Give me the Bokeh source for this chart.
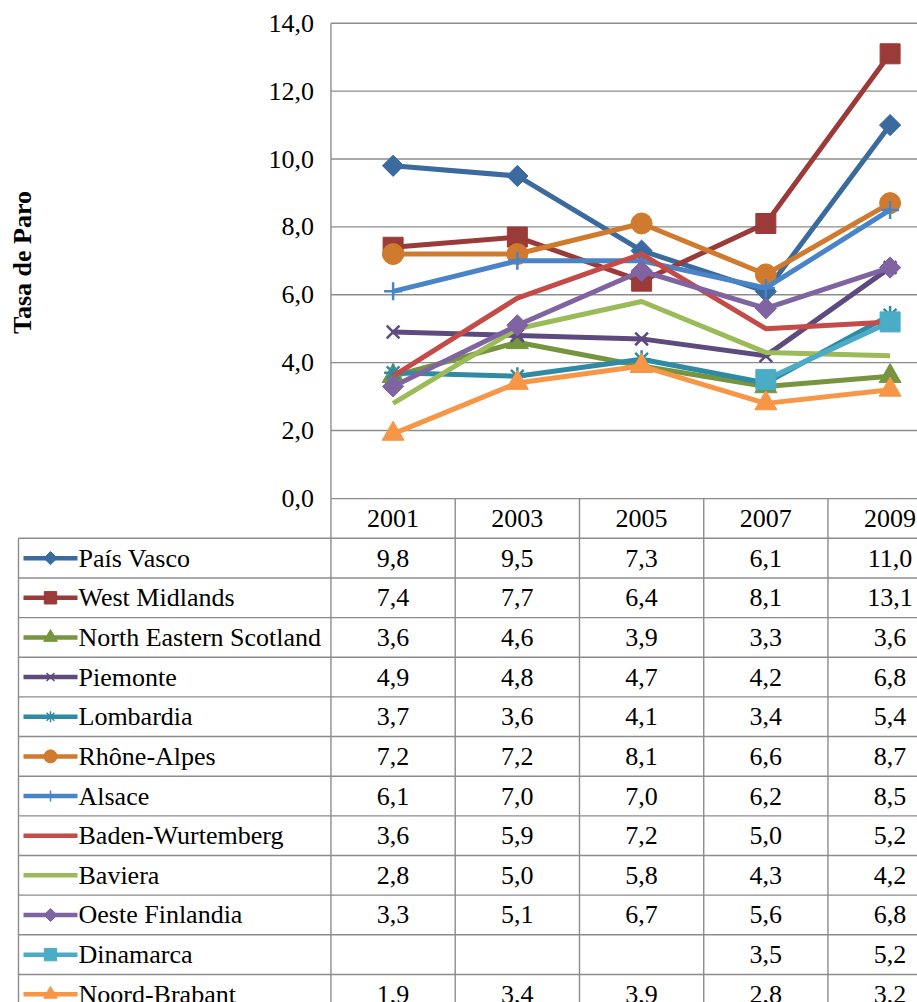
import math
from bokeh.plotting import figure
from bokeh.models import Range1d
from bokeh.core.properties import value
from bokeh.embed import file_html
from bokeh.resources import INLINE

# ---------------- data ----------------
years = ["2001", "2003", "2005", "2007", "2009"]
regions = ["País Vasco", "West Midlands", "North Eastern Scotland", "Piemonte",
           "Lombardia", "Rhône-Alpes", "Alsace", "Baden-Wurtemberg", "Baviera",
           "Oeste Finlandia", "Dinamarca", "Noord-Brabant"]
pais_vasco = [9.8, 9.5, 7.3, 6.1, 11.0]
west_midlands = [7.4, 7.7, 6.4, 8.1, 13.1]
north_eastern_scotland = [3.6, 4.6, 3.9, 3.3, 3.6]
piemonte = [4.9, 4.8, 4.7, 4.2, 6.8]
lombardia = [3.7, 3.6, 4.1, 3.4, 5.4]
rhone_alpes = [7.2, 7.2, 8.1, 6.6, 8.7]
alsace = [6.1, 7.0, 7.0, 6.2, 8.5]
baden_wurtemberg = [3.6, 5.9, 7.2, 5.0, 5.2]
baviera = [2.8, 5.0, 5.8, 4.3, 4.2]
oeste_finlandia = [3.3, 5.1, 6.7, 5.6, 6.8]
dinamarca = [None, None, None, 3.5, 5.2]
noord_brabant = [1.9, 3.4, 3.9, 2.8, 3.2]
y_ticks = [0, 2, 4, 6, 8, 10, 12, 14]
y_tick_labels = ["0,0", "2,0", "4,0", "6,0", "8,0", "10,0", "12,0", "14,0"]
y_title = "Tasa de Paro"

series = [pais_vasco, west_midlands, north_eastern_scotland, piemonte, lombardia,
          rhone_alpes, alsace, baden_wurtemberg, baviera, oeste_finlandia,
          dinamarca, noord_brabant]

# ---------------- styles ----------------
colors = ["#3A6A9E", "#9B3B39", "#77953F", "#5E4A7E", "#2F8BA4", "#D07A2E",
          "#4A84C8", "#C44B48", "#9BBB59", "#8064A2", "#4BACC6", "#F79646"]
# (marker, size, angle)
markers = [("square", 15, math.pi / 4), ("square", 20, 0), ("triangle", 22, 0),
           ("x", 18, 0), ("asterisk", 18, 0), ("circle", 21, 0), ("cross", 18, 0),
           None, None, ("square", 15, math.pi / 4), ("square", 20, 0),
           ("triangle", 22, 0)]

FONT = value("Liberation Serif")
FS = "26px"
GRID = "#8C8C8C"

W, H = 917, 1002
COL_W = 124.25          # px per category column
COL0 = 392.6            # px centre of first category
Y0 = 497.9              # px of value 0
PPU = 33.94             # px per unit of the value axis
ROW0 = 537.8            # px top of first data row
ROW_H = 39.65


def px2u(px):
    return (px - COL0) / COL_W


x_start, x_end = px2u(0), px2u(W)
y_top = Y0 / PPU
y_bottom = -(H - Y0) / PPU
r_top = -ROW0 / ROW_H
r_bottom = (H - ROW0) / ROW_H

p = figure(width=W, height=H, x_range=Range1d(x_start, x_end),
           y_range=Range1d(y_bottom, y_top), x_axis_type=None, y_axis_type=None,
           toolbar_location=None, output_backend="svg", min_border=0,
           outline_line_color=None, background_fill_color="white",
           border_fill_color="white")
p.extra_y_ranges = {"rows": Range1d(start=r_bottom, end=r_top)}

n_cat = len(years)
xs = list(range(n_cat))
n_rows = len(regions)

# gridlines
gt = [t for t in y_ticks if t > 0]
p.segment(x0=[-0.5] * len(gt), y0=gt, x1=[n_cat] * len(gt), y1=gt,
          line_color=GRID, line_width=1.4)
# value axis line
p.segment(x0=[-0.5], y0=[0], x1=[-0.5], y1=[max(y_ticks)], line_color=GRID, line_width=1.4)
# tick labels
p.text(x=[-0.5] * len(y_ticks), y=y_ticks, text=y_tick_labels, x_offset=-17,
       text_align="right", text_baseline="middle", text_font=FONT,
       text_font_size=FS, text_color="black")
# axis title
p.text(x=[px2u(22)], y=[(Y0 - 262) / PPU], text=[y_title], angle=math.pi / 2,
       text_align="center", text_baseline="middle", text_font=FONT,
       text_font_size="26px", text_font_style="bold", text_color="black")

# ---------------- table ----------------
tl = px2u(18)
# header top line (0 line)
p.segment(x0=[-0.5], y0=[-1], x1=[n_cat], y1=[-1], line_color=GRID, line_width=1.4,
          y_range_name="rows")
# row lines
rl = list(range(0, n_rows + 1))
p.segment(x0=[tl] * len(rl), y0=rl, x1=[n_cat] * len(rl), y1=rl,
          line_color=GRID, line_width=1.4, y_range_name="rows")
# vertical lines
vx = [k - 0.5 for k in range(n_cat + 1)]
p.segment(x0=vx, y0=[-1] * len(vx), x1=vx, y1=[n_rows] * len(vx),
          line_color=GRID, line_width=1.4, y_range_name="rows")
p.segment(x0=[tl], y0=[0], x1=[tl], y1=[n_rows], line_color=GRID, line_width=1.4,
          y_range_name="rows")
# header years
p.text(x=xs, y=[-0.5] * n_cat, text=years, text_align="center", text_baseline="middle",
       text_font=FONT, text_font_size=FS, text_color="black", y_range_name="rows")

for j, (name, vals) in enumerate(zip(regions, series)):
    rc = j + 0.5
    col = colors[j]
    # cell values
    cx = [i for i, v in enumerate(vals) if v is not None]
    ct = [f"{v:.1f}".replace(".", ",") for v in vals if v is not None]
    p.text(x=cx, y=[rc] * len(cx), text=ct, text_align="center", text_baseline="middle",
           text_font=FONT, text_font_size=FS, text_color="black", y_range_name="rows")
    # legend key
    p.text(x=[px2u(78)], y=[rc], text=[name], text_align="left", text_baseline="middle",
           text_font=FONT, text_font_size=FS, text_color="black", y_range_name="rows")
    p.segment(x0=[px2u(23)], y0=[rc], x1=[px2u(77)], y1=[rc], line_color=col,
              line_width=4.5, y_range_name="rows")
    if markers[j]:
        mk, sz, ang = markers[j]
        lw = 1.5 if mk in ("x", "asterisk", "cross") else 1
        p.scatter(x=[px2u(50)], y=[rc], marker=mk, size=sz * 0.62, angle=ang,
                  fill_color=col, line_color=col, line_width=lw, y_range_name="rows")

# ---------------- chart lines ----------------
for j, vals in enumerate(series):
    col = colors[j]
    yv = [float("nan") if v is None else v for v in vals]
    p.line(x=xs, y=yv, line_color=col, line_width=5, line_join="round")
    if markers[j]:
        mk, sz, ang = markers[j]
        lw = 2.5 if mk in ("x", "asterisk", "cross") else 1
        px_ = [i for i, v in enumerate(vals) if v is not None]
        py_ = [v for v in vals if v is not None]
        p.scatter(x=px_, y=py_, marker=mk, size=sz, angle=ang, fill_color=col,
                  line_color=col, line_width=lw)

open("out.html", "w").write(file_html(p, INLINE))
